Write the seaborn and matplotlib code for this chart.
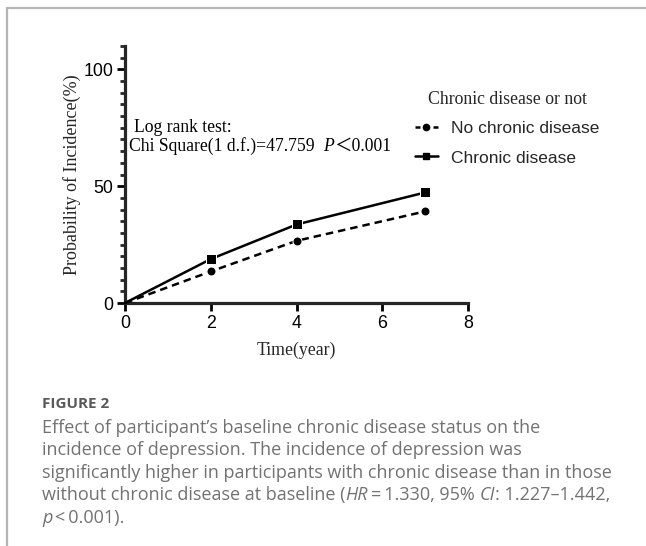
import numpy as np
import pandas as pd
import matplotlib
matplotlib.use("Agg")
import matplotlib.pyplot as plt
from matplotlib.lines import Line2D
from matplotlib.ticker import MultipleLocator
import seaborn as sns

# ---- data ----
time_years = [0, 2, 4, 7]
no_chronic = [0, 13.5, 26.6, 39.2]
chronic = [0, 18.8, 33.6, 47.3]
group_labels = ["No chronic disease", "Chronic disease"]
legend_title = "Chronic disease or not"
x_ticks = [0, 2, 4, 6, 8]
y_ticks = [0, 50, 100]

df = pd.DataFrame({
    "Time": time_years * 2,
    "Prob": no_chronic + chronic,
    "Group": [group_labels[0]] * len(time_years) + [group_labels[1]] * len(time_years),
})

sns.set_style("ticks")
plt.rcParams["font.family"] = ["Liberation Sans", "DejaVu Sans"]

W, H = 646, 546
fig = plt.figure(figsize=(W / 100, H / 100), dpi=100)
fig.patch.set_facecolor("white")

# page frame lines
fig.add_artist(Line2D([7 / W, 1], [1 - 8 / H, 1 - 8 / H], transform=fig.transFigure,
                      color="#b5b5b5", lw=1.6))
fig.add_artist(Line2D([7 / W, 7 / W], [0, 1 - 8 / H], transform=fig.transFigure,
                      color="#b5b5b5", lw=1.6))

ax = fig.add_axes([125 / W, 1 - 303 / H, (468 - 125) / W, (303 - 46) / H])
sns.lineplot(data=df, x="Time", y="Prob", hue="Group", style="Group",
             palette={group_labels[0]: "black", group_labels[1]: "black"},
             dashes={group_labels[0]: (3, 2), group_labels[1]: ""},
             markers={group_labels[0]: "o", group_labels[1]: "s"},
             markersize=6.5, linewidth=1.8, ax=ax, legend=False, zorder=3)
for ln in ax.get_lines():
    ln.set_markevery([1, 2, 3])
    ln.set_clip_on(False)

ax.set_xlim(0, 8)
ax.set_ylim(0, 110)
ax.set_xticks(x_ticks)
ax.set_yticks(y_ticks)
ax.yaxis.set_minor_locator(MultipleLocator(5))
sns.despine(ax=ax)
for sp in ["left", "bottom"]:
    ax.spines[sp].set_linewidth(2.3)
ax.tick_params(axis="both", which="major", direction="out", length=5.8, width=2.0,
               labelsize=12.8, pad=2.5, colors="black")
ax.tick_params(axis="y", which="minor", direction="out", length=3.5, width=2.0)
ax.set_xlabel("Time(year)", fontsize=12.8, family="Liberation Serif", labelpad=7)
ax.set_ylabel("Probability of Incidence(%)", fontsize=13, family="Liberation Serif",
              labelpad=2)

# legend
handles = [
    Line2D([], [], color="black", lw=1.8, ls=(0, (2, 1.6)), marker="o", markersize=4.5),
    Line2D([], [], color="black", lw=1.8, ls="-", marker="s", markersize=4.5),
]
leg = ax.legend(handles, group_labels, title=legend_title, loc="upper left",
                bbox_to_anchor=(408 / W, 1 - 84 / H), bbox_transform=fig.transFigure,
                frameon=False, fontsize=12.5, handlelength=1.3, handletextpad=0.8,
                labelspacing=0.85, borderaxespad=0, title_fontproperties={
                    "family": "Liberation Serif", "size": 12.8})
leg._legend_box.align = "center"
leg._legend_box.sep = 9

# text runs helper
fig.canvas.draw()
renderer = fig.canvas.get_renderer()


def draw_runs(x_px, y_px, runs, **common):
    x = x_px
    for s, kw in runs:
        opts = dict(common)
        opts.update(kw)
        t = fig.text(x / W, 1 - y_px / H, s, va="baseline", ha="left", **opts)
        bb = t.get_window_extent(renderer)
        x = bb.x1


serif = dict(family=["Liberation Serif", "Noto Sans CJK SC"], fontsize=12.7, color="black")
draw_runs(134, 132, [("Log rank test:", {})], **serif)
draw_runs(129, 151, [("Chi Square(1 d.f.)=47.759  ", {}), ("P", {"style": "italic"}),
                     ("＜0.001", {})], **serif)

# caption
cap_col = "#727272"
fig.text(42 / W, 1 - 408 / H, "FIGURE 2", family="Open Sans", fontsize=11,
         fontweight="bold", color="#5a5a5a", va="baseline")
cap = dict(family="Open Sans", fontsize=13, color=cap_col)
base = 433
step = 22.4
draw_runs(42, base, [("Effect of participant\u2019s baseline chronic disease status on the", {})], **cap)
draw_runs(42, base + step, [("incidence of depression. The incidence of depression was", {})], **cap)
draw_runs(42, base + 2 * step, [("significantly higher in participants with chronic disease than in those", {})], **cap)
draw_runs(42, base + 3 * step, [("without chronic disease at baseline (", {}), ("HR", {"style": "italic"}),
                                ("\u2009=\u20091.330, 95% ", {}), ("CI", {"style": "italic"}),
                                (": 1.227\u20131.442,", {})], **cap)
draw_runs(42, base + 4 * step, [("p", {"style": "italic"}), ("\u2009<\u20090.001).", {})], **cap)

fig.savefig("out.png", dpi=100, facecolor="white")
